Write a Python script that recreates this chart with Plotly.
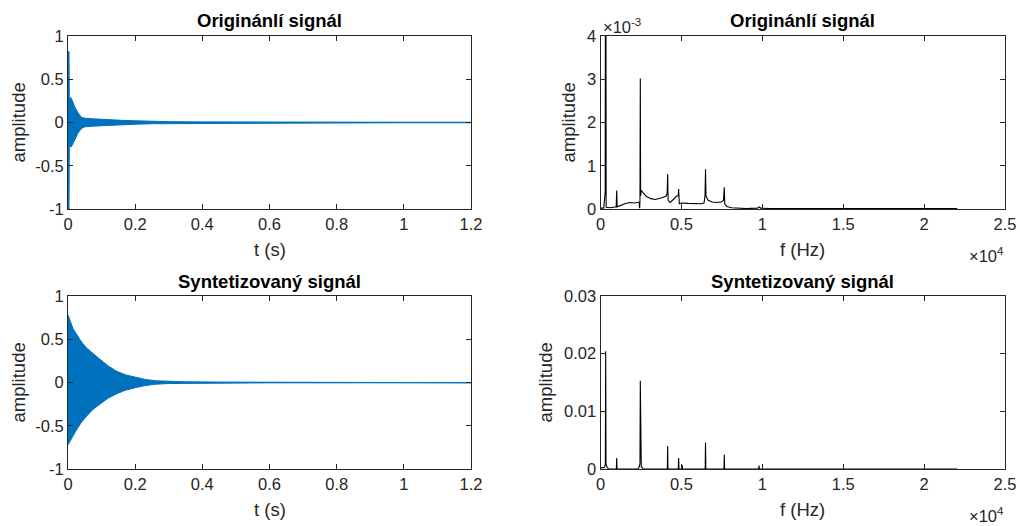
import plotly.graph_objects as go

# ---------------- data ----------------
# time-domain envelopes (upper / lower) of the original signal
t_orig = [0, 0.003, 0.004, 0.01, 0.02, 0.03, 0.04, 0.05, 0.075, 0.1, 0.125, 0.16, 0.2, 0.25, 0.3, 0.4, 0.5, 0.7, 1.0, 1.2]
up_orig = [0.82, 0.82, 0.29, 0.28, 0.18, 0.11, 0.06, 0.05, 0.042, 0.035, 0.03, 0.025, 0.02, 0.014, 0.01, 0.007, 0.005, 0.004, 0.003, 0.003]
lo_orig = [-1.0, -1.0, -0.27, -0.28, -0.2, -0.12, -0.07, -0.05, -0.042, -0.035, -0.03, -0.025, -0.02, -0.014, -0.01, -0.007, -0.005, -0.004, -0.003, -0.003]

# time-domain envelopes of the synthesized signal
t_syn = [0, 0.005, 0.015, 0.025, 0.04, 0.055, 0.075, 0.095, 0.12, 0.145, 0.17, 0.2, 0.23, 0.26, 0.3, 0.35, 0.45, 0.6, 1.2]
up_syn = [0.78, 0.72, 0.62, 0.56, 0.47, 0.40, 0.33, 0.27, 0.19, 0.13, 0.09, 0.06, 0.035, 0.02, 0.012, 0.008, 0.005, 0.004, 0.003]
lo_syn = [-0.72, -0.70, -0.62, -0.55, -0.46, -0.39, -0.31, -0.25, -0.18, -0.13, -0.09, -0.06, -0.035, -0.02, -0.012, -0.008, -0.005, -0.004, -0.003]

# magnitude spectrum of the original signal
f_orig = [0, 200, 290, 320, 350, 600, 970, 1000, 1030, 1200, 1500, 1800, 2100, 2380, 2420, 2440, 2460, 2480, 2520, 2650, 2800, 3100, 3400, 3800, 4050, 4120,
          4150, 4180, 4300, 4500, 4700, 4800, 4830, 4870, 5000, 5400, 5800, 6200, 6400, 6460, 6490, 6520, 6650, 6900, 7200, 7450, 7600, 7630, 7650, 7680, 7800,
          8100, 8500, 9000, 9700, 9800, 9900, 10500, 12500, 15000, 17500, 20000, 22050]
a_orig = [0.00002, 0.00002, 0.0004, 0.0105, 0.00004, 0.00003, 0.00005, 0.00043, 0.00005, 0.00008, 0.00012, 0.00015, 0.00014, 0.00016, 0.00002, 0.0002, 0.00302, 0.0003,
          0.00043, 0.00037, 0.0003, 0.00024, 0.00022, 0.00026, 0.0003, 0.00035, 0.00081, 0.0002, 0.00015, 0.00022, 0.0003, 0.0003, 0.00046, 0.00012, 0.00014,
          0.00013, 0.00012, 0.00012, 0.00014, 0.0003, 0.00092, 0.0003, 0.0002, 0.00016, 0.00015, 0.00016, 0.0002, 0.0003, 0.0005, 0.00012, 0.00006, 0.00003,
          0.00002, 0.00001, 0.00002, 0.00005, 0.00002, 0.00001, 0.00001, 0.00001, 0.00001, 0.00001, 0.00001]

# magnitude spectrum of the synthesized signal
f_syn = [0, 150, 250, 300, 320, 340, 400, 500, 980, 1000, 1020, 1200, 2300, 2400, 2440, 2460, 2480, 2520, 2650, 4130, 4150, 4170, 4810, 4830, 4850, 5030, 5050,
         5070, 6470, 6490, 6510, 7630, 7650, 7670, 9780, 9800, 9820, 22050]
a_syn = [0.0003, 0.0002, 0.0003, 0.0009, 0.0204, 0.0009, 0.0003, 0.0, 0.0, 0.0019, 0.0, 0.0, 0.0, 0.0004, 0.001, 0.0153, 0.001, 0.0004, 0.0, 0.0, 0.004, 0.0, 0.0,
         0.0019, 0.0, 0.0, 0.0007, 0.0, 0.0, 0.0046, 0.0, 0.0, 0.0025, 0.0, 0.0, 0.0006, 0.0, 0.0]

# ticks
t_ticks = [0, 0.2, 0.4, 0.6, 0.8, 1.0, 1.2]
t_ticktext = ["0", "0.2", "0.4", "0.6", "0.8", "1", "1.2"]
amp_ticks = [-1, -0.5, 0, 0.5, 1]
amp_ticktext = ["-1", "-0.5", "0", "0.5", "1"]
f_ticks = [0, 5000, 10000, 15000, 20000, 25000]
f_ticktext = ["0", "0.5", "1", "1.5", "2", "2.5"]
spec1_ticks = [0, 0.001, 0.002, 0.003, 0.004]
spec1_ticktext = ["0", "1", "2", "3", "4"]
spec2_ticks = [0, 0.01, 0.02, 0.03]
spec2_ticktext = ["0", "0.01", "0.02", "0.03"]

titles = ["Originánlí signál", "Originánlí signál", "Syntetizovaný signál", "Syntetizovaný signál"]

# ---------------- figure ----------------
W, H = 1020, 526
BLUE = "#0072BD"
AX = "#262626"
FONT = "Liberation Sans, Arial, sans-serif"

# plot boxes in window pixels: (x0, x1, ytop, ybottom)
boxes = [(68, 471, 36, 209), (600.5, 1005, 36, 209), (68, 471, 296, 469), (600.5, 1005, 296, 469)]
ylabel_x = [18, 568, 18, 545]

def px(x):
    return x / W

def py(y):
    return 1 - y / H

fig = go.Figure()

def envelope(t, up, lo, xa, ya):
    fig.add_trace(go.Scatter(x=t + t[::-1], y=up + lo[::-1], fill="toself", fillcolor=BLUE,
                             mode="lines", line=dict(color=BLUE, width=1), xaxis=xa, yaxis=ya,
                             hoverinfo="skip", showlegend=False))
    fig.add_trace(go.Scatter(x=[t[0], t[-1]], y=[0, 0], mode="lines", line=dict(color=BLUE, width=1.2),
                             xaxis=xa, yaxis=ya, showlegend=False))

envelope(t_orig, up_orig, lo_orig, "x", "y")
fig.add_trace(go.Scatter(x=f_orig, y=a_orig, mode="lines", line=dict(color="black", width=1.1),
                         xaxis="x2", yaxis="y2", showlegend=False))
envelope(t_syn, up_syn, lo_syn, "x3", "y3")
fig.add_trace(go.Scatter(x=f_syn, y=a_syn, mode="lines", line=dict(color="black", width=1.1),
                         xaxis="x4", yaxis="y4", showlegend=False))

tickfont = dict(family=FONT, size=16.5, color=AX)

def axis_common():
    return dict(showline=True, linecolor=AX, linewidth=1, mirror="ticks", ticks="inside",
                ticklen=5, tickcolor=AX, tickwidth=1, showgrid=False, zeroline=False,
                tickfont=tickfont, fixedrange=True, automargin=False, ticklabeloverflow="allow")

layout = dict(width=W, height=H, margin=dict(l=0, r=0, t=0, b=0, pad=0, autoexpand=False),
              paper_bgcolor="white", plot_bgcolor="white", showlegend=False)

xspecs = [(t_ticks, t_ticktext, [0, 1.2]), (f_ticks, f_ticktext, [0, 25000]),
          (t_ticks, t_ticktext, [0, 1.2]), (f_ticks, f_ticktext, [0, 25000])]
yspecs = [(amp_ticks, amp_ticktext, [-1, 1]), (spec1_ticks, spec1_ticktext, [0, 0.004]),
          (amp_ticks, amp_ticktext, [-1, 1]), (spec2_ticks, spec2_ticktext, [0, 0.03])]

annotations = []
for i, (x0, x1, yt, yb) in enumerate(boxes):
    n = "" if i == 0 else str(i + 1)
    xa = axis_common()
    xa.update(domain=[px(x0), px(x1)], range=xspecs[i][2], tickvals=xspecs[i][0],
              ticktext=xspecs[i][1], anchor="y" + n)
    ya = axis_common()
    ya.update(domain=[py(yb), py(yt)], range=yspecs[i][2], tickvals=yspecs[i][0],
              ticktext=yspecs[i][1], anchor="x" + n)
    layout["xaxis" + n] = xa
    layout["yaxis" + n] = ya
    cx = (x0 + x1) / 2
    # title
    annotations.append(dict(text="<b>" + titles[i] + "</b>", x=px(cx), y=py(yt - 15), xref="paper", yref="paper",
                            showarrow=False, xanchor="center", yanchor="middle",
                            font=dict(family=FONT, size=18.5, color="black")))
    # x label
    annotations.append(dict(text="t (s)" if i % 2 == 0 else "f (Hz)", x=px(cx), y=py(yb + 40),
                            xref="paper", yref="paper", showarrow=False, xanchor="center", yanchor="middle",
                            font=dict(family=FONT, size=18.5, color=AX)))
    # y label
    annotations.append(dict(text="amplitude", x=px(ylabel_x[i]), y=py((yt + yb) / 2),
                            xref="paper", yref="paper", showarrow=False, xanchor="center", yanchor="middle",
                            textangle=-90, font=dict(family=FONT, size=18.5, color=AX)))
    if i % 2 == 1:
        annotations.append(dict(text="×10<sup>4</sup>", x=px(1005), y=py(yb + 46), xref="paper", yref="paper",
                                showarrow=False, xanchor="right", yanchor="middle", borderpad=0,
                                font=dict(family=FONT, size=16.5, color=AX)))
    if i == 1:
        annotations.append(dict(text="×10<sup>-3</sup>", x=px(601), y=py(yt - 10), xref="paper", yref="paper",
                                showarrow=False, xanchor="left", yanchor="middle",
                                font=dict(family=FONT, size=16.5, color=AX)))

layout["annotations"] = annotations
fig.update_layout(**layout)
# remove the default 8 px page margin so the 1020x526 figure fills the window exactly
fig.write_html("out.html", config={"displayModeBar": False},
               post_script="document.body.style.margin='0';document.body.style.overflow='hidden';")
